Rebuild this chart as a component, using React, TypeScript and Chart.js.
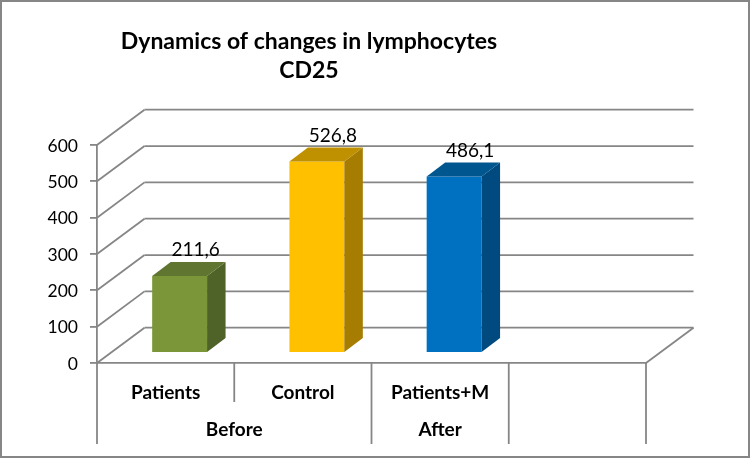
import React, { useEffect, useRef } from "react";
import { Chart, registerables } from "chart.js";

Chart.register(...registerables);

const categories = ["Patients", "Control", "Patients+M", ""];
const values = [211.6, 526.8, 486.1, null];
const frontColors = ["#7B9639", "#FFC000", "#0070C0", "#000000"];
const sideColors = ["#4F6228", "#A67D00", "#004A7F", "#000000"];
const topColors = ["#5F7530", "#BF9000", "#00568F", "#000000"];
const titleLines = ["Dynamics of changes in lymphocytes", "CD25"];
const groups = [
  { label: "Before", from: 0, to: 2, divider: 2 },
  { label: "After", from: 2, to: 3, divider: 3 },
];
const yTicks = [0, 100, 200, 300, 400, 500, 600];

const GREY = "#868686";
const FONT = "Lato, 'Noto Sans', sans-serif";
const DEPTH_X = 47.5;
const DEPTH_Y = -35.3;
const BAR_DX = 14;
const BAR_DY = -10;
const BAR_DEPTH_X = 18.5;
const BAR_DEPTH_Y = -14;

const poly = (ctx: CanvasRenderingContext2D, pts: number[][], fill: string) => {
  ctx.beginPath();
  pts.forEach(([x, y], i) => (i ? ctx.lineTo(x, y) : ctx.moveTo(x, y)));
  ctx.closePath();
  ctx.fillStyle = fill;
  ctx.fill();
};

const line = (ctx: CanvasRenderingContext2D, x1: number, y1: number, x2: number, y2: number) => {
  ctx.beginPath();
  ctx.moveTo(x1, y1);
  ctx.lineTo(x2, y2);
  ctx.stroke();
};

const scene3d = {
  id: "scene3d",
  afterLayout(chart: any) {
    if (chart.titleBlock) {
      chart.titleBlock.left = 0;
      chart.titleBlock.right = 618;
    }
  },
  beforeDraw(chart: any) {
    const { ctx, width, height } = chart;
    ctx.save();
    ctx.fillStyle = "#FFFFFF";
    ctx.fillRect(0, 0, width, height);
    ctx.strokeStyle = "#868686";
    ctx.lineWidth = 2;
    ctx.strokeRect(1, 1, width - 3, height - 3);
    ctx.restore();
  },
  beforeDatasetsDraw(chart: any) {
    const { ctx, scales } = chart;
    const { x, y } = scales;
    ctx.save();
    ctx.strokeStyle = GREY;
    ctx.lineWidth = 1.8;
    yTicks.forEach((v) => {
      const py = y.getPixelForValue(v);
      line(ctx, x.left, py, x.left + DEPTH_X, py + DEPTH_Y);
      line(ctx, x.left + DEPTH_X, py + DEPTH_Y, x.right + DEPTH_X, py + DEPTH_Y);
    });
    const py0 = y.getPixelForValue(0);
    line(ctx, x.right, py0, x.right + DEPTH_X, py0 + DEPTH_Y);
    const boundary = (i: number) => x.getPixelForValue(i - 0.5);
    categories.forEach((_, i) => {
      const isGroupEdge = i === 0 || groups.some((g) => g.divider === i);
      line(ctx, boundary(i), py0, boundary(i), py0 + (isGroupEdge ? 81 : 39));
    });
    line(ctx, boundary(categories.length), py0, boundary(categories.length), py0 + 81);
    ctx.restore();
    ctx.save();
    ctx.translate(BAR_DX, BAR_DY);
  },
  afterDatasetsDraw(chart: any) {
    const { ctx, scales } = chart;
    const { x, y } = scales;
    const meta = chart.getDatasetMeta(0);
    meta.data.forEach((bar: any, i: number) => {
      if (values[i] == null) return;
      const half = bar.width / 2;
      const l = bar.x - half;
      const r = bar.x + half;
      const t = bar.y;
      const b = bar.base;
      poly(ctx, [[r, t], [r + BAR_DEPTH_X, t + BAR_DEPTH_Y], [r + BAR_DEPTH_X, b + BAR_DEPTH_Y], [r, b]], sideColors[i]);
      poly(ctx, [[l, t], [l + BAR_DEPTH_X, t + BAR_DEPTH_Y], [r + BAR_DEPTH_X, t + BAR_DEPTH_Y], [r, t]], topColors[i]);
    });
    ctx.restore();
    ctx.save();
    ctx.fillStyle = "#000000";
    ctx.textAlign = "center";
    ctx.textBaseline = "middle";
    ctx.font = `19px ${FONT}`;
    meta.data.forEach((bar: any, i: number) => {
      const v = values[i];
      if (v == null) return;
      ctx.fillText(v.toFixed(1).replace(".", ","), bar.x + BAR_DX + 16, bar.y + BAR_DY - 26);
    });
    ctx.font = `bold 19px ${FONT}`;
    const py0 = y.getPixelForValue(0);
    groups.forEach((g) => {
      const cx = (x.getPixelForValue(g.from - 0.5) + x.getPixelForValue(g.to - 0.5)) / 2;
      ctx.fillText(g.label, cx, py0 + 67);
    });
    ctx.restore();
  },
};

export default function App() {
  const ref = useRef<HTMLCanvasElement>(null);
  useEffect(() => {
    const chart = new Chart(ref.current!, {
      type: "bar",
      data: {
        labels: categories,
        datasets: [
          {
            data: values,
            backgroundColor: frontColors,
            barPercentage: 0.4,
            categoryPercentage: 1,
            borderWidth: 0,
            clip: false,
          } as any,
        ],
      },
      options: {
        animation: false,
        responsive: false,
        layout: { padding: { left: 0, right: 105, top: 0, bottom: 0 } },
        plugins: {
          legend: { display: false },
          tooltip: { enabled: false },
          title: {
            display: true,
            text: titleLines,
            color: "#000000",
            font: { family: FONT, size: 23, weight: "bold", lineHeight: "29px" },
            padding: { top: 27, bottom: 60 },
          },
        },
        scales: {
          x: {
            type: "category",
            offset: true,
            afterFit: (s: any) => {
              s.height = 96;
            },
            grid: { display: false },
            border: { display: true, color: GREY, width: 1.8 },
            ticks: {
              color: "#000000",
              font: { family: FONT, size: 19, weight: "bold" },
              padding: 10,
              autoSkip: false,
              maxRotation: 0,
            },
          },
          y: {
            type: "linear",
            min: 0,
            max: 600,
            afterFit: (s: any) => {
              s.width = 97;
            },
            grid: { drawOnChartArea: false, drawTicks: true, tickLength: 7, color: GREY, lineWidth: 1.8 },
            border: { display: true, color: GREY, width: 1.8 },
            ticks: {
              stepSize: 100,
              color: "#000000",
              font: { family: FONT, size: 17.5 },
              padding: 12,
              labelOffset: 1,
            },
          },
        },
      },
      plugins: [scene3d],
    } as any);
    return () => chart.destroy();
  }, []);
  return (
    <div style={{ position: "absolute", left: 0, top: 0, width: 751, height: 459 }}>
      <canvas ref={ref} width={751} height={459} style={{ display: "block" }} />
    </div>
  );
}
